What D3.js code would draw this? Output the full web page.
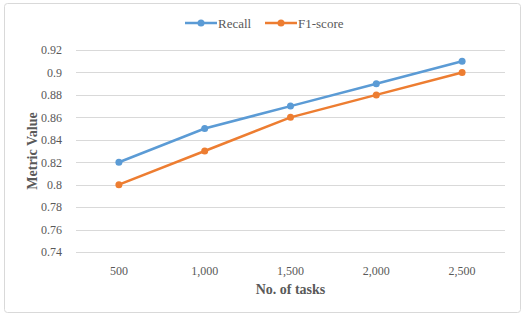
<!DOCTYPE html>
<html>
<head>
<meta charset="utf-8">
<script src="https://cdn.jsdelivr.net/npm/d3@7"></script>
<style>
  body { margin: 0; background: #fff; }
  svg text { font-family: "Liberation Serif", "Times New Roman", serif !important; fill: #595959; }
</style>
</head>
<body>
<div id="chart"></div>
<script>
const tasks = ["500", "1,000", "1,500", "2,000", "2,500"];
const recall = [0.82, 0.85, 0.87, 0.89, 0.91];
const f1 = [0.80, 0.83, 0.86, 0.88, 0.90];
const yTicks = [0.74, 0.76, 0.78, 0.8, 0.82, 0.84, 0.86, 0.88, 0.9, 0.92];

const series = [
	{ name: "Recall", values: recall, color: "#5B9BD5" },
	{ name: "F1-score", values: f1, color: "#ED7D31" },
];

const width = 525;
const height = 318;
const margin = { top: 50, right: 20, bottom: 66, left: 76 };
const serif = '"Liberation Serif", serif';

const svg = d3
	.select("#chart")
	.append("svg")
	.attr("width", width)
	.attr("height", height);

// chart border
svg
	.append("rect")
	.attr("x", 4.5)
	.attr("y", 3.5)
	.attr("width", 516)
	.attr("height", 309)
	.attr("rx", 3)
	.attr("fill", "#fff")
	.attr("stroke", "#d9d9d9");

const x = d3
	.scaleBand()
	.domain(tasks)
	.range([margin.left, width - margin.right]);

const y = d3
	.scaleLinear()
	.domain([0.74, 0.92])
	.range([height - margin.bottom, margin.top]);

// gridlines
svg
	.append("g")
	.selectAll("line")
	.data(yTicks)
	.join("line")
	.attr("x1", margin.left)
	.attr("x2", width - margin.right)
	.attr("y1", (d) => Math.round(y(d)) + 0.5)
	.attr("y2", (d) => Math.round(y(d)) + 0.5)
	.attr("stroke", "#d9d9d9")
	.attr("stroke-width", 1);

// y axis labels
const yAxis = svg
	.append("g")
	.attr("transform", `translate(${margin.left - 11},0)`)
	.call(d3.axisLeft(y).tickValues(yTicks).tickSize(0).tickFormat(d3.format("")));
yAxis.attr("font-family", null);
yAxis.select(".domain").remove();
yAxis
	.selectAll("text")
	.style("font-family", serif)
	.style("font-size", "12px")
	.attr("fill", "#595959");

// x axis labels
const xAxis = svg
	.append("g")
	.attr("transform", `translate(0,${height - margin.bottom + 11})`)
	.call(d3.axisBottom(x).tickSize(0));
xAxis.attr("font-family", null);
xAxis.select(".domain").remove();
xAxis
	.selectAll("text")
	.style("font-family", serif)
	.style("font-size", "12px")
	.attr("fill", "#595959");

// axis titles
svg
	.append("text")
	.attr("x", (margin.left + width - margin.right) / 2)
	.attr("y", 294)
	.attr("text-anchor", "middle")
	.style("font-size", "14px")
	.style("font-weight", "bold")
	.text("No. of tasks");

svg
	.append("text")
	.attr("transform", `translate(32,${y(0.83)}) rotate(-90)`)
	.attr("text-anchor", "middle")
	.attr("dy", "0.35em")
	.style("font-size", "14px")
	.style("font-weight", "bold")
	.text("Metric Value");

const line = d3
	.line()
	.x((d, i) => x(tasks[i]) + x.bandwidth() / 2)
	.y((d) => y(d));

series.forEach((s) => {
	svg
		.append("path")
		.datum(s.values)
		.attr("d", line)
		.attr("fill", "none")
		.attr("stroke", s.color)
		.attr("stroke-width", 2.5)
		.attr("stroke-linecap", "round");

	svg
		.append("g")
		.selectAll("circle")
		.data(s.values)
		.join("circle")
		.attr("cx", (d, i) => x(tasks[i]) + x.bandwidth() / 2)
		.attr("cy", (d) => y(d))
		.attr("r", 3.5)
		.attr("fill", s.color);
});

// legend
const legendPos = [185, 265];
const legend = svg
	.append("g")
	.selectAll("g")
	.data(series)
	.join("g")
	.attr("transform", (d, i) => `translate(${legendPos[i]},23)`);

legend
	.append("line")
	.attr("x1", 0)
	.attr("x2", 32)
	.attr("stroke", (d) => d.color)
	.attr("stroke-width", 2.5);

legend
	.append("circle")
	.attr("cx", 16)
	.attr("r", 3.5)
	.attr("fill", (d) => d.color);

legend
	.append("text")
	.attr("x", 33)
	.attr("dy", "0.35em")
	.style("font-size", "13px")
	.text((d) => d.name);
</script>
</body>
</html>
